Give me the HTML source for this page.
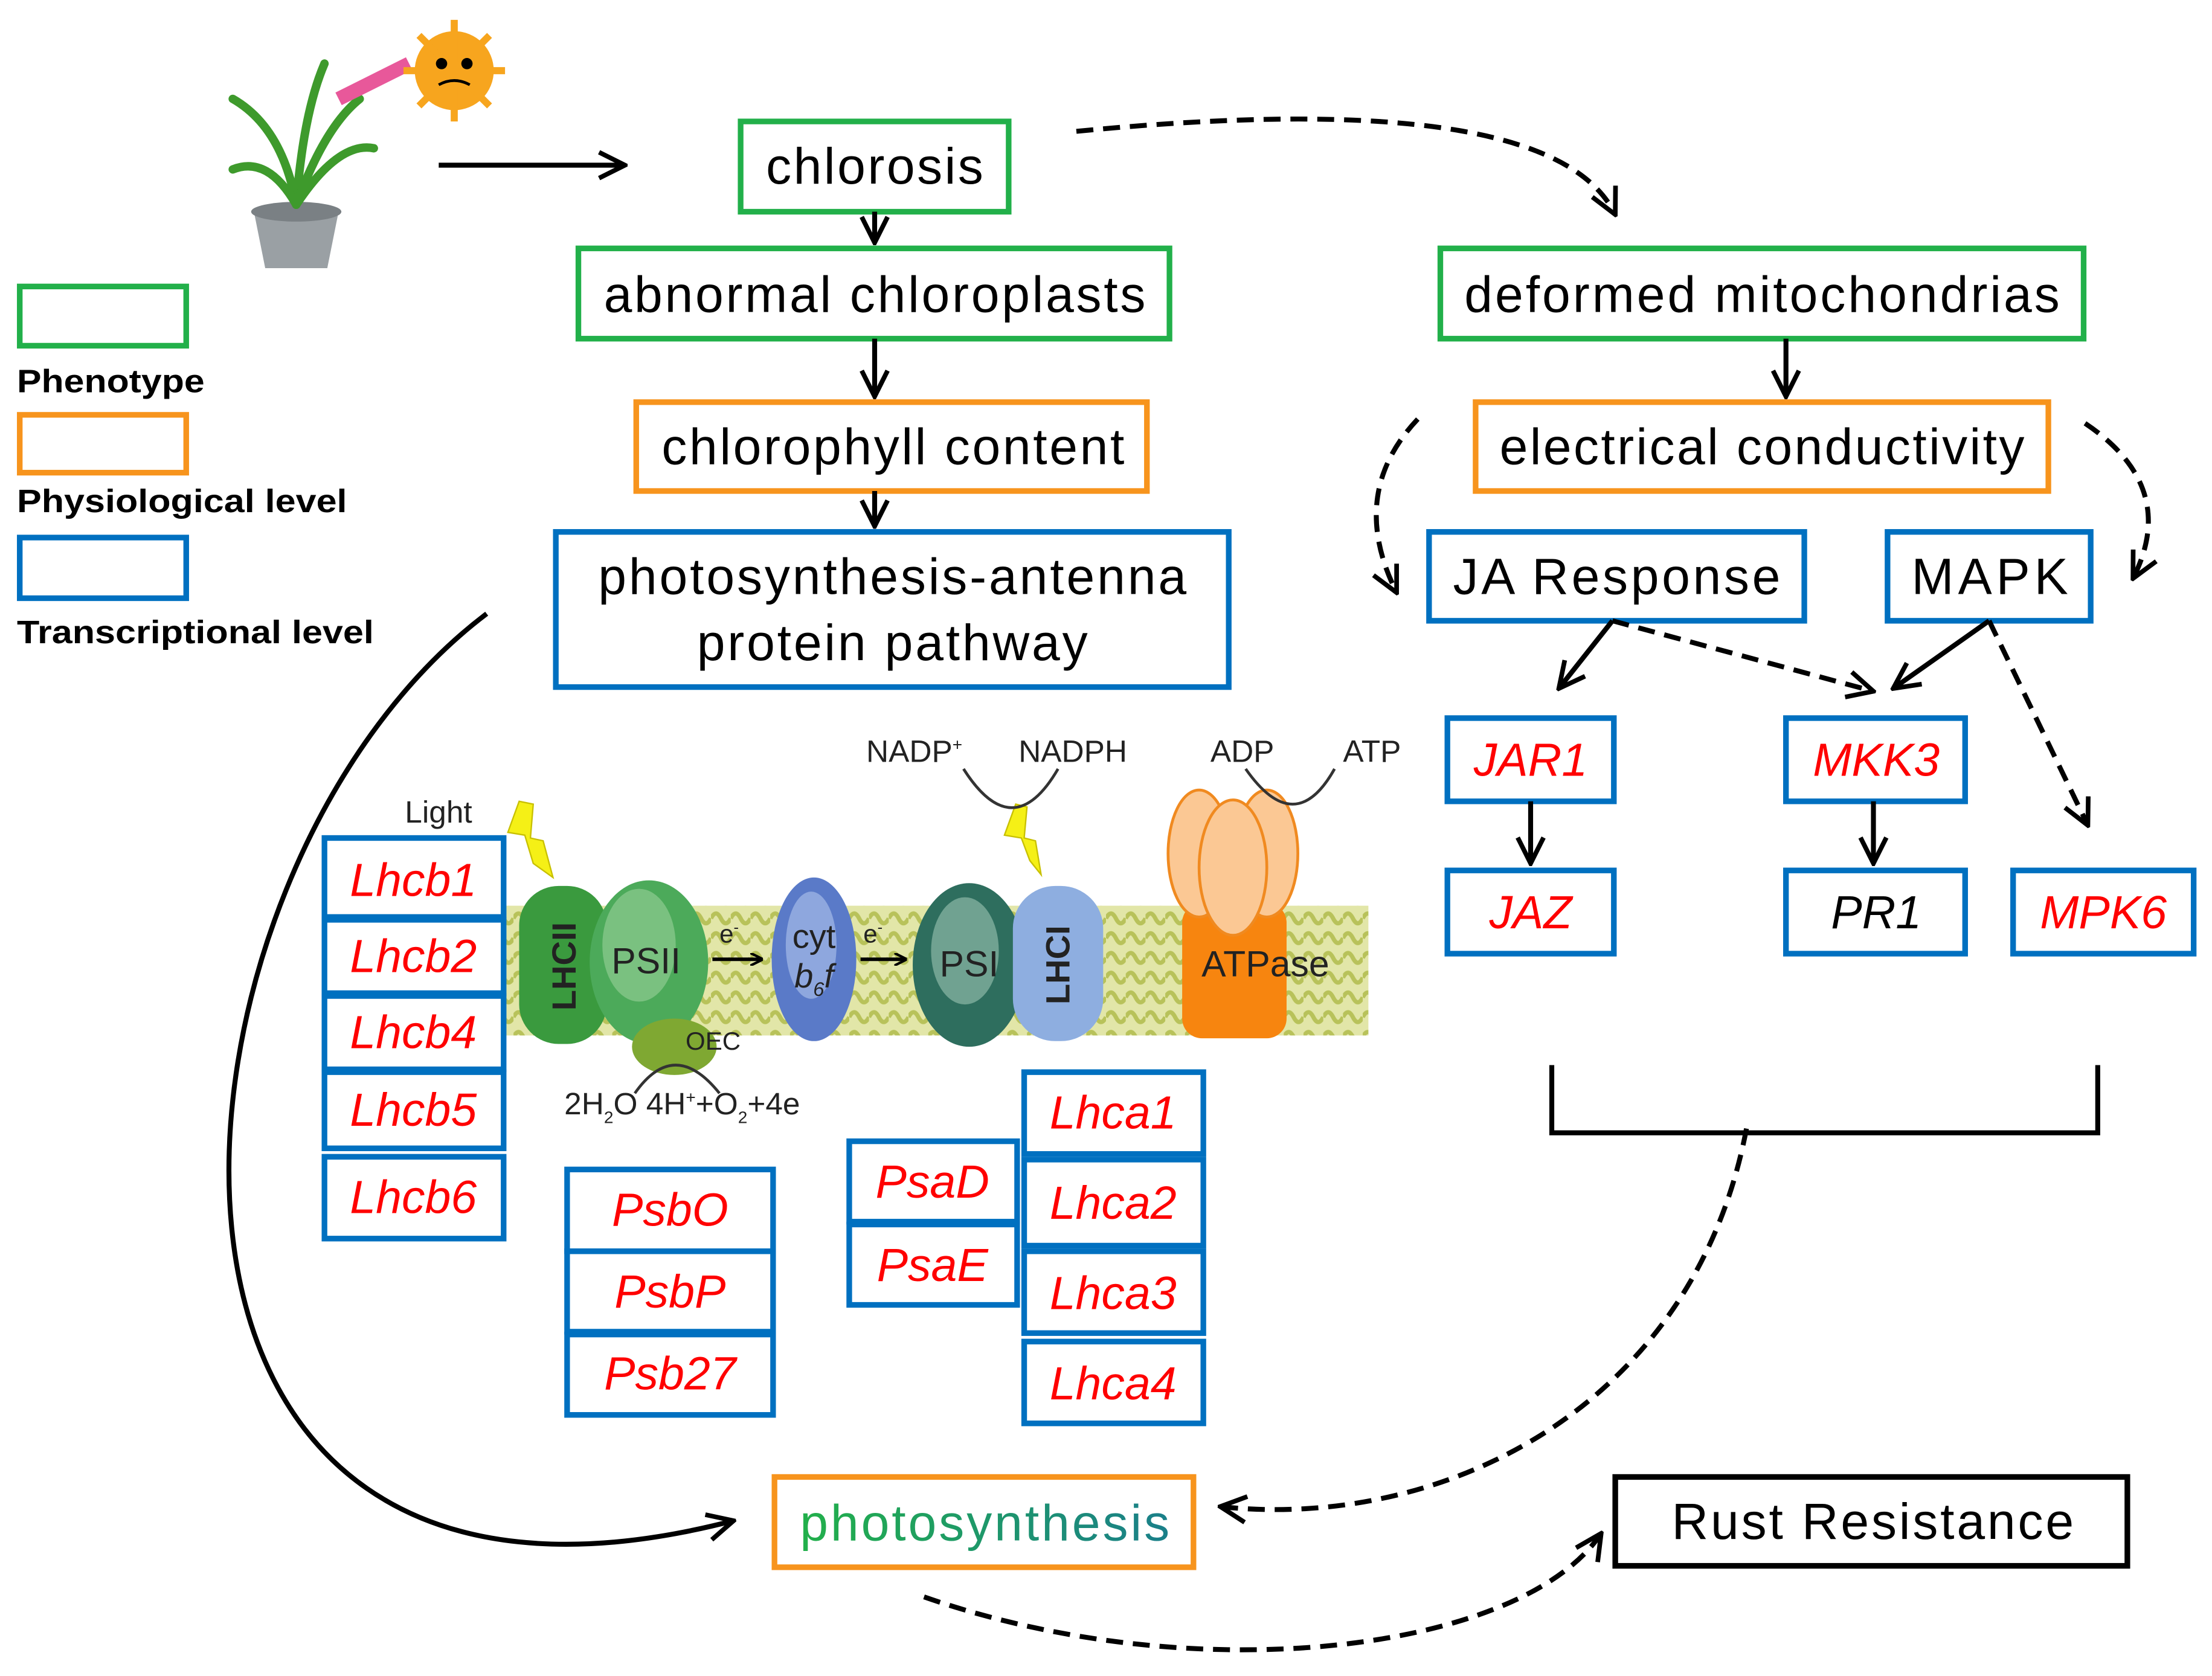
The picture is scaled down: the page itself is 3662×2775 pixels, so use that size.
<!DOCTYPE html>
<html><head><meta charset="utf-8"><style>
html,body{margin:0;padding:0;background:#fff}
svg{display:block}
text{font-family:"Liberation Sans",Arial,sans-serif}
</style></head><body>
<svg width="3662" height="2775" viewBox="0 0 1568 1188" xmlns="http://www.w3.org/2000/svg">
<defs>
<marker id="a" viewBox="0 0 10 10" refX="9" refY="5" markerWidth="9" markerHeight="9" orient="auto" markerUnits="userSpaceOnUse"><path d="M0,0 L10,5 L0,10" fill="none" stroke="#000" stroke-width="2"/></marker>
<marker id="b" viewBox="0 0 12 12" refX="11" refY="6" markerWidth="22" markerHeight="22" orient="auto" markerUnits="userSpaceOnUse"><path d="M1,1 L11,6 L1,11" fill="none" stroke="#000" stroke-width="1.8"/></marker>
<linearGradient id="pg" x1="0" x2="1"><stop offset="0" stop-color="#22b04a"/><stop offset="1" stop-color="#1a7f8a"/></linearGradient>
<pattern id="mem" width="14" height="14" patternUnits="userSpaceOnUse"><rect width="14" height="14" fill="#e2e6a8"/><path d="M0,7 Q3.5,0 7,7 T14,7" fill="none" stroke="#b8c25a" stroke-width="3"/></pattern>
</defs>
<rect width="1568" height="1188" fill="#fff"/>

<!-- plant -->
<path d="M180,150 L240,150 L232,190 L188,190 Z" fill="#9aa0a4"/>
<ellipse cx="210" cy="150" rx="32" ry="7" fill="#7a8084"/>
<g stroke="#3e9a2c" stroke-width="6" fill="none" stroke-linecap="round">
<path d="M210,145 Q200,90 165,70"/><path d="M210,145 Q215,80 230,45"/><path d="M210,145 Q190,110 165,120"/><path d="M210,145 Q240,100 265,105"/><path d="M210,145 Q230,90 255,70"/></g>
<path d="M240,70 L290,45" stroke="#e8589a" stroke-width="10"/>
<circle cx="322" cy="50" r="28" fill="#f7a51e"/>
<g stroke="#f7a51e" stroke-width="5"><path d="M322,14 V86 M286,50 H358 M297,25 L347,75 M347,25 L297,75"/></g>
<circle cx="313" cy="45" r="4" fill="#000"/><circle cx="331" cy="45" r="4" fill="#000"/>
<path d="M311,60 Q322,54 333,60" stroke="#000" stroke-width="2" fill="none"/>

<!-- legend -->
<rect x="14" y="203" width="118" height="42" fill="none" stroke="#22b04a" stroke-width="4"/>
<text x="12" y="278" font-size="23" font-weight="bold" textLength="133" lengthAdjust="spacingAndGlyphs">Phenotype</text>
<rect x="14" y="294" width="118" height="41" fill="none" stroke="#f7941d" stroke-width="4"/>
<text x="12" y="363" font-size="23" font-weight="bold" textLength="234" lengthAdjust="spacingAndGlyphs">Physiological level</text>
<rect x="14" y="381" width="118" height="43" fill="none" stroke="#0070c0" stroke-width="4"/>
<text x="12" y="456" font-size="23" font-weight="bold" textLength="253" lengthAdjust="spacingAndGlyphs">Transcriptional level</text>

<!-- main boxes -->
<g fill="none" stroke-width="4">
<rect x="525" y="86" width="190" height="64" stroke="#22b04a"/>
<rect x="410" y="176" width="419" height="64" stroke="#22b04a"/>
<rect x="451" y="285" width="362" height="63" stroke="#f7941d"/>
<rect x="394" y="377" width="477" height="110" stroke="#0070c0"/>
<rect x="1021" y="176" width="456" height="64" stroke="#22b04a"/>
<rect x="1046" y="285" width="406" height="63" stroke="#f7941d"/>
<rect x="1013" y="377" width="266" height="63" stroke="#0070c0"/>
<rect x="1338" y="377" width="144" height="63" stroke="#0070c0"/>
<rect x="549" y="1047" width="297" height="64" stroke="#f7941d"/>
<rect x="1145" y="1047" width="363" height="63" stroke="#000"/>
</g>
<g font-size="36" lengthAdjust="spacingAndGlyphs">
<text x="543" y="130" textLength="154">chlorosis</text>
<text x="428" y="221" textLength="384">abnormal chloroplasts</text>
<text x="469" y="329" textLength="328">chlorophyll content</text>
<text x="424" y="421" textLength="417">photosynthesis-antenna</text>
<text x="494" y="468" textLength="277">protein pathway</text>
<text x="1038" y="221" textLength="422">deformed mitochondrias</text>
<text x="1063" y="329" textLength="372">electrical conductivity</text>
<text x="1030" y="421" textLength="232">JA Response</text>
<text x="1355" y="421" textLength="111">MAPK</text>
<text x="567" y="1092" textLength="262" fill="url(#pg)">photosynthesis</text>
<text x="1185" y="1091" textLength="285">Rust Resistance</text>
</g>

<!-- gene boxes -->
<g fill="#fff" stroke="#0070c0" stroke-width="4">
<rect x="1026" y="509" width="118" height="59"/><rect x="1266" y="509" width="127" height="59"/>
<rect x="1026" y="617" width="118" height="59"/><rect x="1266" y="617" width="127" height="59"/>
<rect x="1427" y="617" width="128" height="59"/>
</g>
<g font-size="33" font-style="italic" text-anchor="middle" fill="#f00">
<text x="1085" y="550">JAR1</text><text x="1330" y="550">MKK3</text>
<text x="1085" y="658">JAZ</text><text x="1330" y="658" fill="#000">PR1</text>
<text x="1491" y="658">MPK6</text>
</g>

<!-- membrane -->
<rect x="310" y="642" width="660" height="92" fill="url(#mem)"/>
<rect x="368" y="628" width="62" height="112" rx="28" fill="#3a9a3e"/>
<text transform="translate(408,685) rotate(-90)" font-size="24" font-weight="bold" text-anchor="middle" fill="#222">LHCII</text>
<ellipse cx="460" cy="682" rx="42" ry="58" fill="#4caa5a"/>
<ellipse cx="453" cy="670" rx="26" ry="40" fill="#9ad09a" opacity=".6"/>
<ellipse cx="478" cy="742" rx="30" ry="20" fill="#7fa832"/>
<text x="458" y="690" font-size="26" text-anchor="middle" fill="#222">PSII</text>
<ellipse cx="577" cy="680" rx="30" ry="58" fill="#5a7ac8"/>
<ellipse cx="575" cy="670" rx="18" ry="38" fill="#b0c4ec" opacity=".6"/>
<text x="577" y="672" font-size="24" text-anchor="middle" fill="#222">cyt</text>
<text x="577" y="700" font-size="24" font-style="italic" text-anchor="middle" fill="#222">b<tspan font-size="14" dy="6">6</tspan><tspan dy="-6">f</tspan></text>
<ellipse cx="687" cy="684" rx="40" ry="58" fill="#2e6e5e"/>
<ellipse cx="684" cy="674" rx="24" ry="38" fill="#9cc4b4" opacity=".6"/>
<text x="687" y="692" font-size="26" text-anchor="middle" fill="#222">PSI</text>
<rect x="718" y="628" width="64" height="110" rx="30" fill="#8eaee0"/>
<text transform="translate(758,684) rotate(-90)" font-size="24" font-weight="bold" text-anchor="middle" fill="#222">LHCI</text>
<rect x="838" y="640" width="74" height="96" rx="14" fill="#f7850f"/>
<g fill="#fbc894" stroke="#f08a20" stroke-width="2"><ellipse cx="850" cy="605" rx="22" ry="45"/><ellipse cx="898" cy="605" rx="22" ry="45"/><ellipse cx="874" cy="615" rx="24" ry="48"/></g>
<text x="897" y="692" font-size="26" text-anchor="middle" fill="#222">ATPase</text>
<path d="M505,680 H540" stroke="#000" stroke-width="2.5" marker-end="url(#a)"/>
<path d="M610,680 H642" stroke="#000" stroke-width="2.5" marker-end="url(#a)"/>
<text x="510" y="668" font-size="18" fill="#222">e<tspan font-size="11" dy="-7">-</tspan></text>
<text x="612" y="668" font-size="18" fill="#222">e<tspan font-size="11" dy="-7">-</tspan></text>
<text x="486" y="744" font-size="18" fill="#222">OEC</text>
<path d="M450,775 Q478,735 510,775" fill="none" stroke="#333" stroke-width="2"/>
<text x="400" y="790" font-size="22" fill="#222">2H<tspan font-size="12" dy="6">2</tspan><tspan dy="-6">O  4H</tspan><tspan font-size="12" dy="-8">+</tspan><tspan dy="8">+O</tspan><tspan font-size="12" dy="6">2</tspan><tspan dy="-6">+4e</tspan></text>
<text x="287" y="583" font-size="22" fill="#222">Light</text>
<path d="M368,568 L360,590 L372,592 L378,612 L392,622 L385,596 L376,594 L378,570 Z" fill="#f5f016" stroke="#c8c000"/>
<path d="M720,570 L712,592 L724,594 L730,610 L738,620 L734,596 L726,594 L728,572 Z" fill="#f5f016" stroke="#c8c000"/>
<text x="614" y="540" font-size="22" fill="#222">NADP<tspan font-size="12" dy="-8">+</tspan></text>
<text x="722" y="540" font-size="22" fill="#222">NADPH</text>
<text x="858" y="540" font-size="22" fill="#222">ADP</text>
<text x="952" y="540" font-size="22" fill="#222">ATP</text>
<path d="M683,545 Q718,600 750,545" fill="none" stroke="#333" stroke-width="2"/>
<path d="M883,545 Q918,595 946,545" fill="none" stroke="#333" stroke-width="2"/>

<!-- lhcb etc. -->
<g fill="#fff" stroke="#0070c0" stroke-width="4">
<rect x="230" y="594" width="127" height="56"/><rect x="230" y="652" width="127" height="52"/>
<rect x="230" y="706" width="127" height="52"/><rect x="230" y="760" width="127" height="54"/>
<rect x="230" y="820" width="127" height="58"/>
<rect x="402" y="829" width="146" height="58"/><rect x="402" y="887" width="146" height="57"/><rect x="402" y="946" width="146" height="57"/>
<rect x="602" y="809" width="119" height="57"/><rect x="602" y="868" width="119" height="57"/>
<rect x="726" y="760" width="127" height="58"/><rect x="726" y="822" width="127" height="61"/>
<rect x="726" y="887" width="127" height="58"/><rect x="726" y="951" width="127" height="58"/>
</g>
<g font-size="33" font-style="italic" text-anchor="middle" fill="#f00">
<text x="293" y="635">Lhcb1</text><text x="293" y="689">Lhcb2</text><text x="293" y="743">Lhcb4</text>
<text x="293" y="798">Lhcb5</text><text x="293" y="860">Lhcb6</text>
<text x="475" y="869">PsbO</text><text x="475" y="927">PsbP</text><text x="475" y="985">Psb27</text>
<text x="661" y="849">PsaD</text><text x="661" y="908">PsaE</text>
<text x="789" y="800">Lhca1</text><text x="789" y="864">Lhca2</text><text x="789" y="928">Lhca3</text><text x="789" y="992">Lhca4</text>
</g>

<!-- arrows -->
<g fill="none" stroke="#000" stroke-width="3.5">
<path d="M311,117 H443" marker-end="url(#b)"/>
<path d="M620,150 V172" marker-end="url(#b)"/>
<path d="M620,240 V281" marker-end="url(#b)"/>
<path d="M620,348 V373" marker-end="url(#b)"/>
<path d="M1266,240 V281" marker-end="url(#b)"/>
<path d="M1143,440 L1105,488" marker-end="url(#b)"/>
<path d="M1410,440 L1342,488" marker-end="url(#b)"/>
<path d="M1085,568 V612" marker-end="url(#b)"/>
<path d="M1328,568 V612" marker-end="url(#b)"/>
<path d="M1100,755 V803 H1487 V755"/>
<path d="M345,435 C100,620 50,1200 520,1078" marker-end="url(#b)"/>
</g>
<g fill="none" stroke="#000" stroke-width="3.5" stroke-dasharray="12,7">
<path d="M763,93 Q1100,60 1145,152" marker-end="url(#b)"/>
<path d="M1005,297 Q955,350 990,420" marker-end="url(#b)"/>
<path d="M1478,300 Q1545,345 1512,410" marker-end="url(#b)"/>
<path d="M1143,440 L1328,490" marker-end="url(#b)"/>
<path d="M1410,440 L1480,585" marker-end="url(#b)"/>
<path d="M1238,800 C1200,1000 1020,1085 865,1068" marker-end="url(#b)"/>
<path d="M655,1132 C850,1200 1080,1170 1135,1087" marker-end="url(#b)"/>
</g>
</svg>
</body></html>
